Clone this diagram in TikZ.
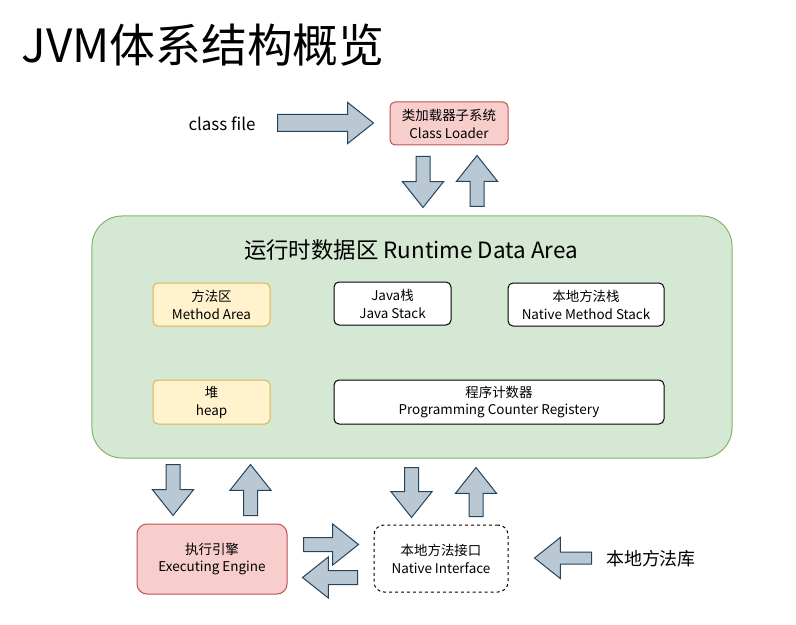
\documentclass[tikz,border=0pt]{standalone}
\usepackage{fontspec}
\setmainfont{Noto Sans CJK SC}
\usetikzlibrary{shapes.arrows}
\definecolor{arrowfill}{HTML}{BAC8D3}
\definecolor{arrowline}{HTML}{23445D}
\definecolor{redfill}{HTML}{F8CECC}
\definecolor{redline}{HTML}{B85450}
\definecolor{yellowfill}{HTML}{FFF2CC}
\definecolor{yellowline}{HTML}{D6B656}
\definecolor{greenfill}{HTML}{D5E8D4}
\definecolor{greenline}{HTML}{82B366}
\begin{document}
\begin{tikzpicture}[
        x=1bp, y=-1bp,
        box/.style={draw, rounded corners=5bp, line width=1bp, align=center, inner sep=0pt,
            font=\fontsize{13.5}{18}\selectfont},
        redbox/.style={box, fill=redfill, draw=redline},
        yellowbox/.style={box, fill=yellowfill, draw=yellowline},
        whitebox/.style={box, fill=white, draw=black},
        bigarrow/.style={single arrow, draw=arrowline, fill=arrowfill, line width=1bp,
            inner sep=0pt, inner ysep=6.5bp, single arrow head extend=13.5bp,
            single arrow tip angle=77, minimum height=51bp, anchor=tail}
    ]
    \useasboundingbox (0,0) rectangle (796,625);
    % Title
    \node[anchor=west, font=\fontsize{46}{50}\selectfont] (title) at (18,45) {JVM体系结构概览};
    % Class loader
    \node[font=\fontsize{17}{20}\selectfont] (CF) at (222,124) {class file};
    \node[redbox, minimum width=118bp, minimum height=43bp] (CL) at (449,123.5) {类加载器子系统\\Class Loader};
    % Runtime data area
    \node[draw=greenline, fill=greenfill, line width=1bp, rounded corners=30bp,
        minimum width=640bp, minimum height=242bp] (RDA) at (412,337) {};
    \node[font=\fontsize{22.5}{26}\selectfont] (RDAtitle) at (411,250) {运行时数据区 Runtime Data Area};
    \node[yellowbox, minimum width=117bp, minimum height=43bp] (MA) at (211.5,304.5) {方法区\\Method Area};
    \node[whitebox, minimum width=117bp, minimum height=43bp] (JS) at (392.5,303.5) {Java栈\\Java Stack};
    \node[whitebox, minimum width=156bp, minimum height=43bp] (NMS) at (586,304.5) {本地方法栈\\Native Method Stack};
    \node[yellowbox, minimum width=117bp, minimum height=44bp] (HP) at (211.5,402) {堆\\heap};
    \node[whitebox, minimum width=330bp, minimum height=44bp] (PC) at (499,402) {程序计数器\\Programming Counter Registery};
    % Engine and native interface
    \node[redbox, rounded corners=10bp, minimum width=150bp, minimum height=70bp] (EE) at (212,559) {执行引擎\\Executing Engine};
    \node[box, dashed, rounded corners=10bp, minimum width=134bp, minimum height=67bp] (NI) at (441,558.5) {本地方法接口\\Native Interface};
    \node[font=\fontsize{18}{22}\selectfont] (NL) at (651,559) {本地方法库};
    % Arrows
    \node[bigarrow, minimum height=96bp, inner ysep=8bp, single arrow head extend=12bp] (CFtoCL) at (277,123) {};
    \node[bigarrow, rotate=-90] (CLdown) at (423,156) {};
    \node[bigarrow, rotate=90] (CLup) at (477,207) {};
    \node[bigarrow, rotate=-90] (EEdown) at (173,464) {};
    \node[bigarrow, rotate=90] (EEup) at (250.5,516) {};
    \node[bigarrow, rotate=-90, minimum height=50bp] (NIdown) at (411.5,467) {};
    \node[bigarrow, rotate=90, minimum height=49bp] (NIup) at (476,517) {};
    \node[bigarrow, minimum height=55bp] (EEtoNI) at (303,544.5) {};
    \node[bigarrow, rotate=180, minimum height=55bp] (NItoEE) at (358,577.5) {};
    \node[bigarrow, rotate=180, minimum height=57bp, inner ysep=5.5bp, single arrow head extend=14.5bp] (NLtoNI) at (592,558) {};
\end{tikzpicture}
\end{document}
